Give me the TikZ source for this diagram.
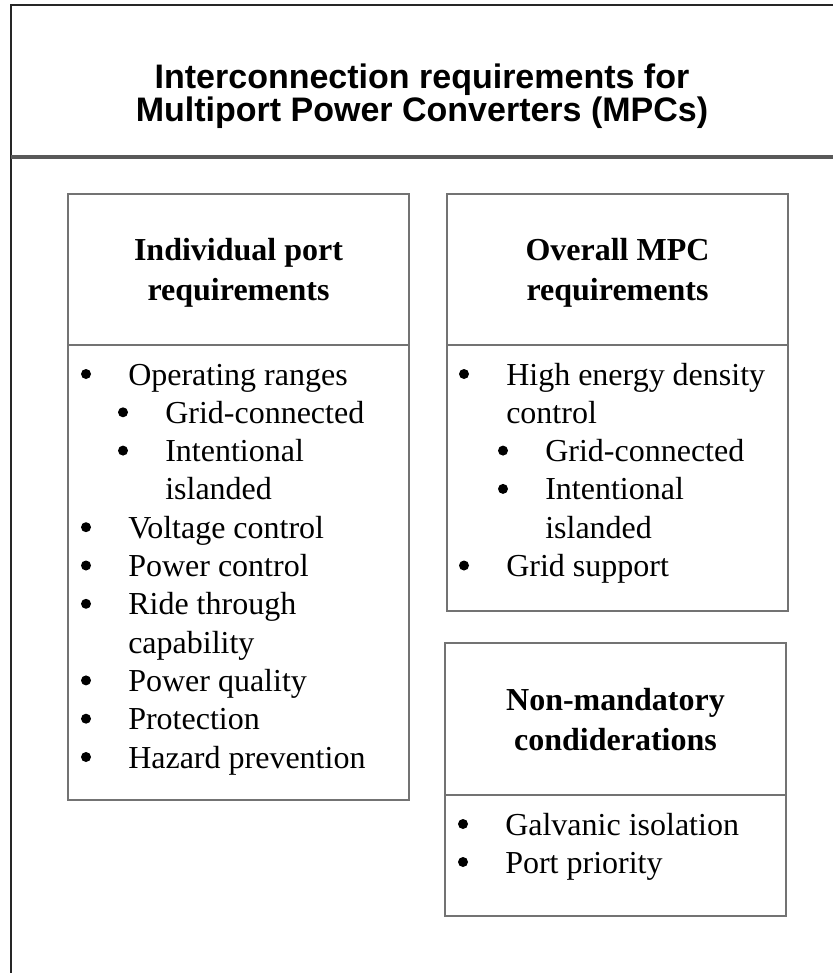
\documentclass[tikz,border=0pt]{standalone}
\usepackage{fontspec}
\setmainfont{Liberation Serif}
\newfontfamily\titlefont{Liberation Sans}
\begin{document}
\begin{tikzpicture}[x=0.75pt,y=-0.75pt,
  frameline/.style={draw=black!85, line width=1.3pt},
  sepline/.style={draw=black!65, line width=2.4pt},
  boxline/.style={draw=black!55, line width=1.3pt},
  titletext/.style={anchor=base, inner sep=0pt, font=\titlefont\bfseries\fontsize{25.5}{25.5}\selectfont},
  headtext/.style={anchor=mid, inner sep=0pt, font=\bfseries\fontsize{24}{24}\selectfont},
  itemtext/.style={anchor=mid west, inner sep=0pt, font=\fontsize{24}{24}\selectfont},
  bul/.style={circle, fill=black, draw=none, inner sep=0pt, minimum size=7.5pt}
]
\useasboundingbox (0,0) rectangle (833,973);
% outer frame (cut off at right and bottom)
\draw[frameline] (11,973) -- (11,5) -- (833,5);
\draw[sepline] (11,157) -- (833,157);
\node[titletext] (t1) at (422,89) {Interconnection requirements for};
\node[titletext] (t2) at (422,122) {Multiport Power Converters (MPCs)};

% box 1
\draw[boxline] (68,194) rectangle (409,800);
\draw[boxline] (68,345) -- (409,345);
\node[headtext] (h1a) at (238.5,257) {Individual port};
\node[headtext] (h1b) at (238.5,297) {requirements};
\foreach \y/\lvl/\txt/\b [count=\i] in {
  382/1/Operating ranges/1,
  420.3/2/Grid-connected/1,
  458.6/2/Intentional/1,
  496.9/2/islanded/0,
  535.2/1/Voltage control/1,
  573.5/1/Power control/1,
  611.8/1/Ride through/1,
  650.1/1/capability/0,
  688.4/1/Power quality/1,
  726.7/1/Protection/1,
  765/1/Hazard prevention/1}{
  \ifnum\lvl=1
    \node[itemtext] (a\i) at (128,\y) {\txt};
    \ifnum\b=1 \node[bul] (ab\i) at (86,\y-8) {}; \fi
  \else
    \node[itemtext] (a\i) at (165,\y) {\txt};
    \ifnum\b=1 \node[bul] (ab\i) at (123,\y-8) {}; \fi
  \fi
}

% box 2
\draw[boxline] (447,194) rectangle (788,611);
\draw[boxline] (447,345) -- (788,345);
\node[headtext] (h2a) at (617.5,257) {Overall MPC};
\node[headtext] (h2b) at (617.5,297) {requirements};
\foreach \y/\lvl/\txt/\b [count=\i] in {
  382/1/High energy density/1,
  420.3/1/control/0,
  458.6/2/Grid-connected/1,
  496.9/2/Intentional/1,
  535.2/2/islanded/0,
  573.5/1/Grid support/1}{
  \ifnum\lvl=1
    \node[itemtext] (b\i) at (506,\y) {\txt};
    \ifnum\b=1 \node[bul] (bb\i) at (464,\y-8) {}; \fi
  \else
    \node[itemtext] (b\i) at (545,\y) {\txt};
    \ifnum\b=1 \node[bul] (bb\i) at (503,\y-8) {}; \fi
  \fi
}

% box 3
\draw[boxline] (445,643) rectangle (786,916);
\draw[boxline] (445,795) -- (786,795);
\node[headtext] (h3a) at (615.5,707) {Non-mandatory};
\node[headtext] (h3b) at (615.5,747) {condiderations};
\node[itemtext] (c1) at (505,832) {Galvanic isolation};
\node[bul] (cb1) at (463,824) {};
\node[itemtext] (c2) at (505,870) {Port priority};
\node[bul] (cb2) at (463,862) {};
\end{tikzpicture}
\end{document}
